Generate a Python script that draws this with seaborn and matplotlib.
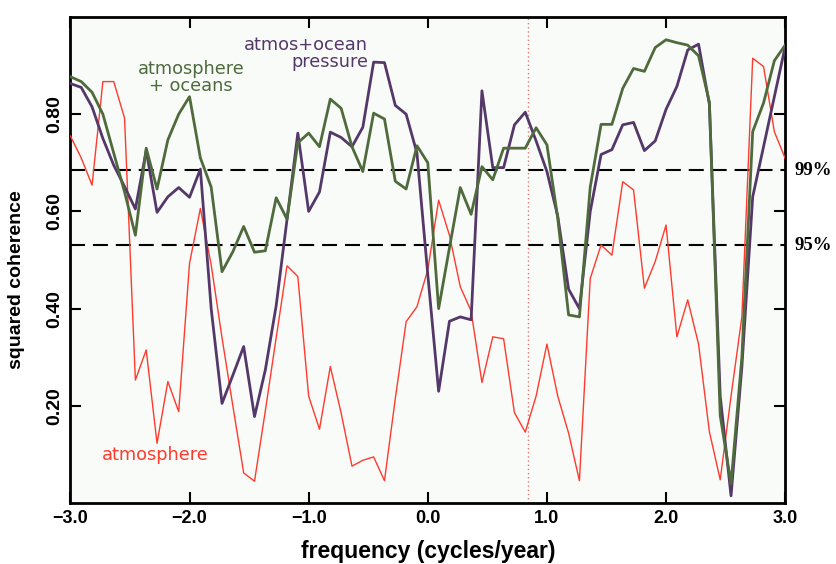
import numpy as np
import pandas as pd
import matplotlib
matplotlib.use("Agg")
import matplotlib.pyplot as plt
import matplotlib.transforms as mtransforms
import seaborn as sns

# frequency grid (cycles/year), 67 points from -3 to 3
frequency = np.linspace(-3.0, 3.0, 67)

atmosphere = [
    0.755, 0.71, 0.654, 0.867, 0.867, 0.792, 0.253, 0.315, 0.123, 0.25,
    0.188, 0.493, 0.606, 0.49, 0.34, 0.20, 0.062, 0.045, 0.19, 0.34,
    0.488, 0.466, 0.22, 0.152, 0.281, 0.185, 0.076, 0.088, 0.095, 0.046,
    0.215, 0.373, 0.404, 0.48, 0.623, 0.551, 0.445, 0.395, 0.248, 0.342,
    0.338, 0.186, 0.146, 0.22, 0.327, 0.22, 0.144, 0.046, 0.462, 0.531,
    0.51, 0.661, 0.644, 0.442, 0.497, 0.572, 0.342, 0.418, 0.327, 0.147,
    0.048, 0.22, 0.383, 0.915, 0.898, 0.764, 0.709]

atmos_oceans = [
    0.877, 0.867, 0.845, 0.80, 0.72, 0.64, 0.551, 0.73, 0.646, 0.747,
    0.80, 0.836, 0.71, 0.65, 0.476, 0.517, 0.569, 0.516, 0.519, 0.628,
    0.584, 0.741, 0.761, 0.733, 0.831, 0.812, 0.733, 0.682, 0.802, 0.79,
    0.662, 0.646, 0.735, 0.70, 0.40, 0.525, 0.649, 0.594, 0.692, 0.665,
    0.73, 0.73, 0.73, 0.772, 0.737, 0.586, 0.387, 0.383, 0.65, 0.779,
    0.779, 0.853, 0.894, 0.888, 0.937, 0.953, 0.947, 0.942, 0.92, 0.825,
    0.18, 0.04, 0.30, 0.764, 0.823, 0.91, 0.942]

ocean_pressure = [
    0.863, 0.855, 0.815, 0.75, 0.695, 0.651, 0.605, 0.725, 0.598, 0.63,
    0.649, 0.629, 0.687, 0.40, 0.205, 0.263, 0.322, 0.178, 0.274, 0.406,
    0.583, 0.761, 0.60, 0.64, 0.763, 0.752, 0.733, 0.773, 0.907, 0.906,
    0.818, 0.80, 0.72, 0.47, 0.23, 0.374, 0.383, 0.377, 0.848, 0.69,
    0.69, 0.778, 0.804, 0.745, 0.682, 0.59, 0.44, 0.40, 0.60, 0.717,
    0.727, 0.778, 0.783, 0.725, 0.745, 0.81, 0.857, 0.932, 0.944, 0.82,
    0.22, 0.015, 0.28, 0.63, 0.733, 0.836, 0.939]

sig_levels = [0.685, 0.530]
sig_labels = ["99%", "95%"]
marker_freq = 0.845
xticks = [-3.0, -2.0, -1.0, 0.0, 1.0, 2.0, 3.0]
yticks = [0.20, 0.40, 0.60, 0.80]

df = pd.DataFrame({"frequency": frequency, "atmosphere": atmosphere,
                   "atmos_oceans": atmos_oceans, "pressure": ocean_pressure})

red = "#ff3a2e"
green = "#4f6a3c"
purple = "#55386a"

fig = plt.figure(figsize=(8.37, 5.64), dpi=100)
ax = fig.add_axes([0.0841, 0.108, 0.854, 0.862])
ax.set_facecolor("#f8fbf7")

sns.lineplot(data=df, x="frequency", y="atmosphere", color=red, lw=1.0,
             estimator=None, sort=False, ax=ax, zorder=3)
sns.lineplot(data=df, x="frequency", y="pressure", color=purple, lw=2.0,
             estimator=None, sort=False, ax=ax, zorder=4)
sns.lineplot(data=df, x="frequency", y="atmos_oceans", color=green, lw=2.0,
             estimator=None, sort=False, ax=ax, zorder=5)

for lev in sig_levels:
    ax.axhline(lev, color="black", lw=1.5, ls=(0, (7.2, 3.8)), zorder=2)
ax.axvline(marker_freq, color="#e07878", lw=1.0, ls=(0, (1, 2)), zorder=1)

ax.set_xlim(-3.0, 3.0)
ax.set_ylim(0.0, 1.0)
ax.set_xticks(xticks)
ax.set_xticklabels([f"{t:.1f}".replace("-", "\u2212") for t in xticks],
                   fontfamily="Liberation Sans", fontweight="bold", fontsize=13)
ax.set_yticks(yticks)
ax.set_yticklabels([f"{t:.2f}" for t in yticks], rotation=90, va="center",
                   fontfamily="Liberation Sans", fontweight="bold", fontsize=14)
ax.tick_params(direction="in", length=8, width=1.5, top=True, right=True)
ax.tick_params(axis="y", pad=5)
ax.tick_params(axis="x", pad=5)
for s in ax.spines.values():
    s.set_linewidth(2.0)
    s.set_color("black")

ax.set_xlabel("frequency (cycles/year)", fontfamily="Liberation Sans",
              fontweight="bold", fontsize=16.5, labelpad=9)
ax.set_ylabel("squared coherence", fontfamily="Liberation Sans",
              fontweight="bold", fontsize=14)
ax.yaxis.set_label_coords(-0.064, 0.46)

ax.text(-1.987, 0.875, "atmosphere\n+ oceans", color=green, fontsize=12.8,
        ha="center", va="center", linespacing=0.9, zorder=6)
ax.text(-0.501, 0.9245, "atmos+ocean\npressure", color=purple, fontsize=12.8,
        ha="right", va="center", multialignment="right", linespacing=0.9, zorder=6)
ax.text(-2.285, 0.099, "atmosphere", color=red, fontsize=12.8,
        ha="center", va="center", zorder=6)

trans = mtransforms.blended_transform_factory(ax.transAxes, ax.transData)
for lev, lab in zip(sig_levels, sig_labels):
    ax.text(1.013, lev, lab, transform=trans, fontfamily="Liberation Serif",
            fontweight="bold", fontsize=13.5, ha="left", va="center", clip_on=False)

fig.savefig("out.png", dpi=100, facecolor="white")
